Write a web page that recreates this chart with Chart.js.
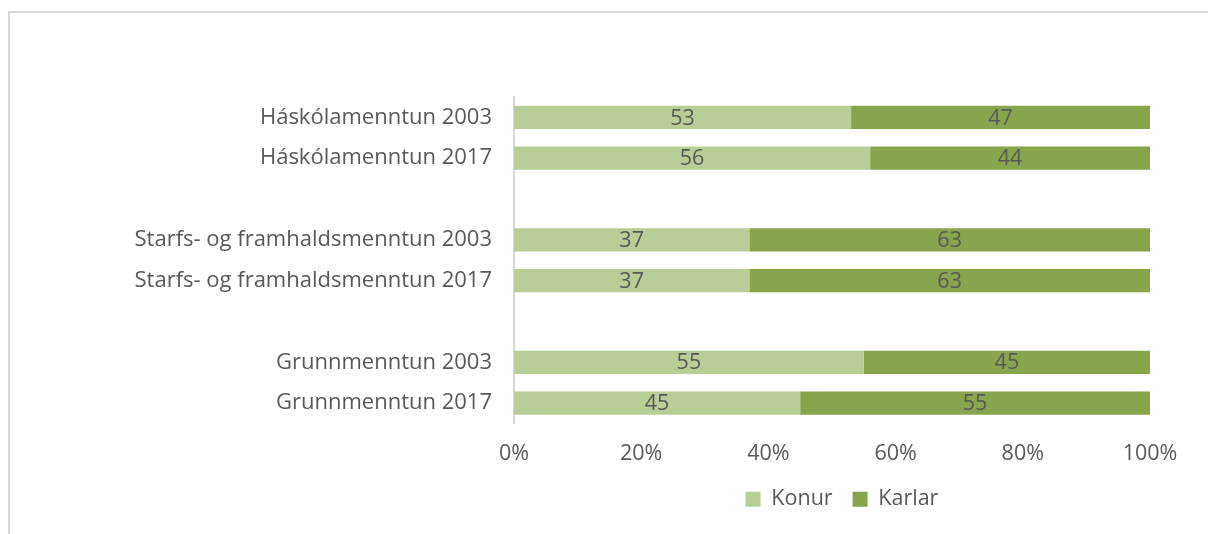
<!DOCTYPE html>
<html>
<head>
<meta charset="utf-8">
<script src="https://cdn.jsdelivr.net/npm/chart.js@4.4.1/dist/chart.umd.min.js"></script>
<style>
  html, body { margin: 0; padding: 0; background: #fff; }
  #frame {
    position: absolute; left: 8px; top: 11px; width: 1200px; height: 523px;
    border-left: 2px solid #d9d9d9; border-top: 2px solid #d9d9d9;
  }
  #wrap { position: absolute; left: 0; top: 0; width: 1208px; height: 534px; }
</style>
</head>
<body>
<div id="frame"></div>
<div id="wrap"><canvas id="chart" width="1208" height="534"></canvas></div>
<script>
const categories = [
  "Háskólamenntun 2003",
  "Háskólamenntun 2017",
  "",
  "Starfs- og framhaldsmenntun 2003",
  "Starfs- og framhaldsmenntun 2017",
  "",
  "Grunnmenntun 2003",
  "Grunnmenntun 2017"
];
const konur = [53, 56, null, 37, 37, null, 55, 45];
const karlar = [47, 44, null, 63, 63, null, 45, 55];
const xTicks = [0, 20, 40, 60, 80, 100];

const FONT = "'Open Sans', Lato, sans-serif";
const SIZE = 21.5;
const TEXT = "#595959";

// draw the numbers in the middle of each bar segment
const barLabels = {
  id: "barLabels",
  afterDatasetsDraw(chart) {
    const ctx = chart.ctx;
    ctx.save();
    ctx.font = SIZE + "px " + FONT;
    ctx.fillStyle = TEXT;
    ctx.textAlign = "center";
    ctx.textBaseline = "middle";
    chart.data.datasets.forEach((ds, i) => {
      const meta = chart.getDatasetMeta(i);
      meta.data.forEach((bar, j) => {
        const v = ds.data[j];
        if (v == null) return;
        ctx.fillText(String(v), (bar.x + bar.base) / 2, bar.y + 1);
      });
    });
    ctx.restore();
  }
};

// centre the legend under the plot area instead of the whole canvas
const legendShift = {
  id: "legendShift",
  afterLayout(chart) {
    const lg = chart.legend;
    const a = chart.chartArea;
    const mid = (a.left + a.right) / 2 + 10;
    const half = (lg.right - lg.left) / 2;
    lg.left = mid - half;
    lg.right = mid + half;
  }
};

const ctx = document.getElementById("chart").getContext("2d");
new Chart(ctx, {
  type: "bar",
  data: {
    labels: categories,
    datasets: [
      { label: "Konur", data: konur, backgroundColor: "#b9cd97", barPercentage: 0.57, categoryPercentage: 1 },
      { label: "Karlar", data: karlar, backgroundColor: "#88a44d", barPercentage: 0.57, categoryPercentage: 1 }
    ]
  },
  options: {
    indexAxis: "y",
    responsive: false,
    animation: false,
    layout: { padding: { top: 97, right: 58, left: 0, bottom: 14 } },
    scales: {
      x: {
        stacked: true,
        min: 0, max: 100,
        afterBuildTicks: (s) => { s.ticks = xTicks.map(v => ({ value: v })); },
        afterFit: (s) => { s.height = 45; },
        grid: { display: false, drawTicks: false },
        border: { display: false },
        ticks: { color: TEXT, font: { family: FONT, size: SIZE }, padding: 17, callback: v => v + "%" }
      },
      y: {
        stacked: true,
        afterFit: (s) => { s.width = 514; },
        grid: { display: false, drawTicks: false },
        border: { color: "#d9d9d9", width: 2 },
        ticks: { color: TEXT, font: { family: FONT, size: 22 }, padding: 22, autoSkip: false }
      }
    },
    plugins: {
      legend: {
        position: "bottom",
        labels: { color: TEXT, font: { family: FONT, size: SIZE }, boxWidth: 15, boxHeight: 15, padding: 20 }
      },
      tooltip: { enabled: false }
    }
  },
  plugins: [barLabels, legendShift]
});
</script>
</body>
</html>
